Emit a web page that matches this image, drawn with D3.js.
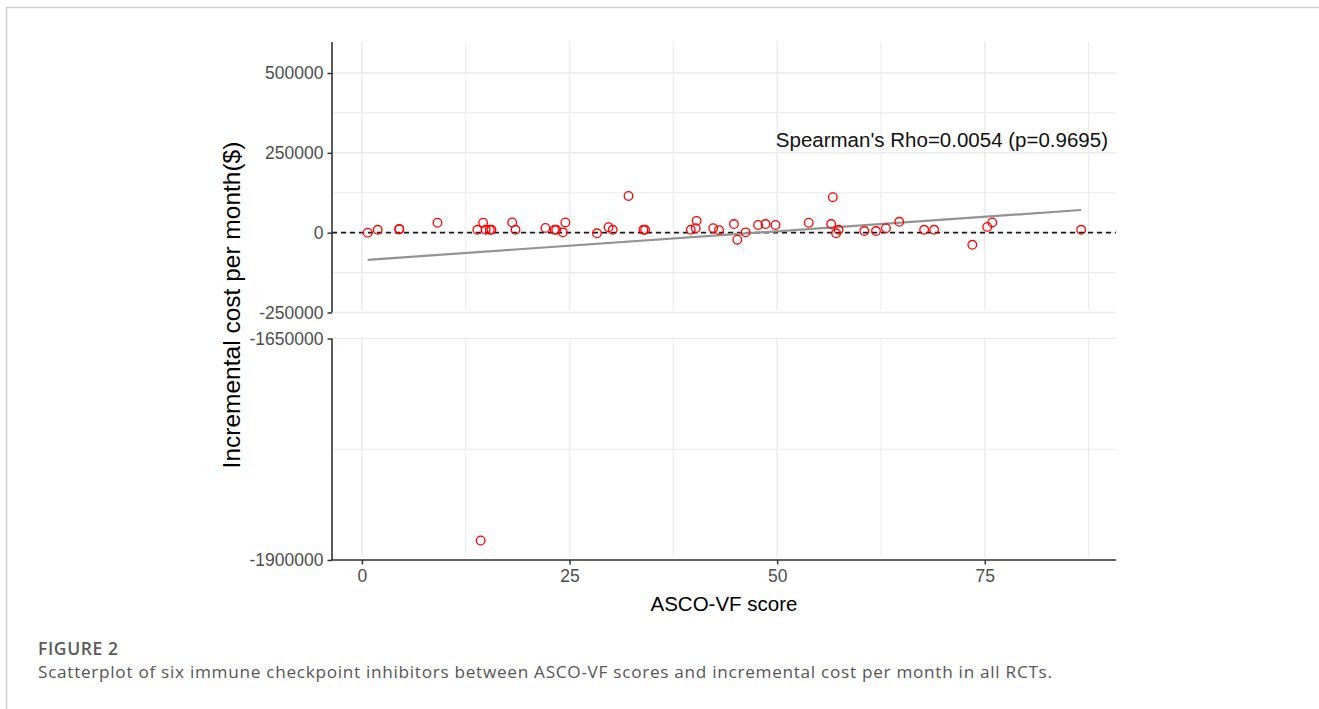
<!DOCTYPE html>
<html>
<head>
<meta charset="utf-8">
<script src="https://cdn.jsdelivr.net/npm/d3@7"></script>
<style>
  html, body { margin: 0; padding: 0; background: #fff; }
  svg { display: block; }
</style>
</head>
<body>
<svg id="chart" width="1319" height="709"></svg>
<script>
// ---------------- data ----------------
const scores = [0.7, 1.9, 4.5, 4.5, 9.1, 13.9, 14.6, 14.9, 15.4, 15.6,
  18.1, 18.5, 22.1, 23.2, 23.4, 24.2, 24.5, 28.3, 29.7, 30.2,
  32.1, 33.9, 34.1, 39.6, 40.2, 40.3, 42.3, 43.0, 44.8, 45.2,
  46.2, 47.7, 48.6, 49.8, 53.8, 56.5, 56.7, 57.1, 57.4, 60.5,
  61.9, 63.1, 64.7, 67.7, 68.9, 73.5, 75.3, 75.9, 86.6, 14.3];
const costs = [0, 9000, 12000, 10000, 31000, 9000, 31000, 9000, 9000, 9000,
  32000, 9000, 15000, 9000, 9000, 1000, 32000, -2000, 17000, 9000,
  115000, 9000, 9000, 9000, 14000, 37000, 14000, 8000, 27000, -22000,
  1000, 24000, 27000, 24000, 31000, 27000, 111000, -2000, 9000, 5000,
  5000, 14000, 34000, 9000, 9000, -38000, 18000, 32000, 9000, -1878000];
const trendX = [0.7, 86.6];
const trendY = [-85000, 71000];
const xTicks = [0, 25, 50, 75];
const xMinor = [12.5, 37.5, 62.5, 87.5];
const topTicks = [-250000, 0, 250000, 500000];
const topMinor = [-125000, 125000, 375000];
const botTicks = [-1900000, -1650000];
const botMinor = [-1775000];
const annotation = "Spearman's Rho=0.0054 (p=0.9695)";
const xTitle = "ASCO-VF score";
const yTitle = "Incremental cost per month($)";
const figLabel = "FIGURE 2";
const caption = "Scatterplot of six immune checkpoint inhibitors between ASCO-VF scores and incremental cost per month in all RCTs.";

// ---------------- layout ----------------
const svg = d3.select("#chart");
const L = 332, R = 1116;
const topPanel = { top: 42, bottom: 312.5 };
const botPanel = { top: 338.5, bottom: 560 };

const x = d3.scaleLinear().domain([-3.6, 90.8]).range([L, R]);
const yTop = d3.scaleLinear().domain([-250000, 500000]).range([312.5, 73]);
const yBot = d3.scaleLinear().domain([-1900000, -1650000]).range([560, 338.5]);

const gridCol = "#ebebeb";
const axisCol = "#333333";
const tickTextCol = "#4d4d4d";
const sans = "'Liberation Sans', Arial, sans-serif";

// frame
svg.append("path")
  .attr("d", "M6.5,709 L6.5,7.5 L1319,7.5")
  .attr("fill", "none").attr("stroke", "#cfcfcf").attr("stroke-width", 1.5);

// ---------- grids ----------
function grid(panel, yScale, major, minor) {
  const g = svg.append("g");
  g.selectAll(".hmin").data(minor).join("line")
    .attr("x1", L).attr("x2", R)
    .attr("y1", d => yScale(d)).attr("y2", d => yScale(d))
    .attr("stroke", gridCol).attr("stroke-width", 1.1);
  g.selectAll(".hmaj").data(major).join("line")
    .attr("x1", L).attr("x2", R)
    .attr("y1", d => yScale(d)).attr("y2", d => yScale(d))
    .attr("stroke", gridCol).attr("stroke-width", 1.5);
  g.selectAll(".vmin").data(xMinor).join("line")
    .attr("x1", d => x(d)).attr("x2", d => x(d))
    .attr("y1", panel.top).attr("y2", panel.bottom - 3)
    .attr("stroke", gridCol).attr("stroke-width", 1.1);
  g.selectAll(".vmaj").data(xTicks).join("line")
    .attr("x1", d => x(d)).attr("x2", d => x(d))
    .attr("y1", panel.top).attr("y2", panel.bottom - 3)
    .attr("stroke", gridCol).attr("stroke-width", 1.5);
}
grid(topPanel, yTop, topTicks, topMinor);
grid(botPanel, yBot, botTicks, botMinor);

// ---------- reference line at 0 ----------
svg.append("line")
  .attr("x1", L).attr("x2", R)
  .attr("y1", yTop(0)).attr("y2", yTop(0))
  .attr("stroke", "#1a1a1a").attr("stroke-width", 1.8)
  .attr("stroke-dasharray", "5,4");

// ---------- trend line ----------
svg.append("line")
  .attr("x1", x(trendX[0])).attr("x2", x(trendX[1]))
  .attr("y1", yTop(trendY[0])).attr("y2", yTop(trendY[1]))
  .attr("stroke", "#939393").attr("stroke-width", 2.2);

// ---------- points ----------
const pts = scores.map((s, i) => ({ s, c: costs[i] }));
svg.append("g").selectAll("circle").data(pts).join("circle")
  .attr("cx", d => x(d.s))
  .attr("cy", d => d.c < -1000000 ? yBot(d.c) : yTop(d.c))
  .attr("r", 4.3)
  .attr("fill", "none").attr("stroke", "#ff0000").attr("stroke-width", 1.3);

// ---------- axes ----------
function yAxis(scale, ticks, panel) {
  const g = svg.append("g").attr("transform", `translate(${L},0)`)
    .call(d3.axisLeft(scale).tickValues(ticks).tickSize(4.5).tickPadding(4).tickFormat(d => String(d)));
  g.select(".domain").remove();
  g.selectAll(".tick line").attr("stroke", axisCol).attr("stroke-width", 1.5);
  g.selectAll(".tick text").attr("fill", tickTextCol)
    .style("font-family", sans).style("font-size", "17.5px");
  svg.append("line").attr("x1", L).attr("x2", L)
    .attr("y1", panel.top).attr("y2", panel.bottom)
    .attr("stroke", axisCol).attr("stroke-width", 1.6);
}
yAxis(yTop, topTicks, topPanel);
yAxis(yBot, botTicks, botPanel);

const gx = svg.append("g").attr("transform", `translate(0,${botPanel.bottom})`)
  .call(d3.axisBottom(x).tickValues(xTicks).tickSize(4.5).tickPadding(5).tickFormat(d => String(d)));
gx.select(".domain").remove();
gx.selectAll(".tick line").attr("stroke", axisCol).attr("stroke-width", 1.5);
gx.selectAll(".tick text").attr("fill", tickTextCol)
  .style("font-family", sans).style("font-size", "17.5px");
svg.append("line").attr("x1", L - 0.8).attr("x2", R)
  .attr("y1", botPanel.bottom).attr("y2", botPanel.bottom)
  .attr("stroke", axisCol).attr("stroke-width", 1.6);

// ---------- titles ----------
svg.append("text")
  .attr("x", (L + R) / 2).attr("y", 611)
  .attr("text-anchor", "middle")
  .style("font-family", sans).style("font-size", "20.5px")
  .attr("fill", "#000").text(xTitle);

svg.append("text")
  .attr("transform", `translate(240,305) rotate(-90)`)
  .attr("text-anchor", "middle")
  .style("font-family", sans).style("font-size", "24.5px")
  .attr("fill", "#000").text(yTitle);

svg.append("text")
  .attr("x", 1108).attr("y", 147)
  .attr("text-anchor", "end")
  .style("font-family", sans).style("font-size", "20.5px")
  .attr("fill", "#111").text(annotation);

// ---------- caption ----------
svg.append("text")
  .attr("x", 38).attr("y", 655)
  .attr("textLength", 80).attr("lengthAdjust", "spacing")
  .style("font-family", "'Open Sans', 'Noto Sans', sans-serif").style("font-size", "17.5px")
  .style("font-weight", "600")
  .attr("fill", "#5a5a5a").text(figLabel);

svg.append("text")
  .attr("x", 38).attr("y", 678)
  .attr("textLength", 1014).attr("lengthAdjust", "spacing")
  .style("font-family", "'Open Sans', 'Noto Sans', sans-serif").style("font-size", "17.2px")
  .attr("fill", "#555").text(caption);
</script>
</body>
</html>
